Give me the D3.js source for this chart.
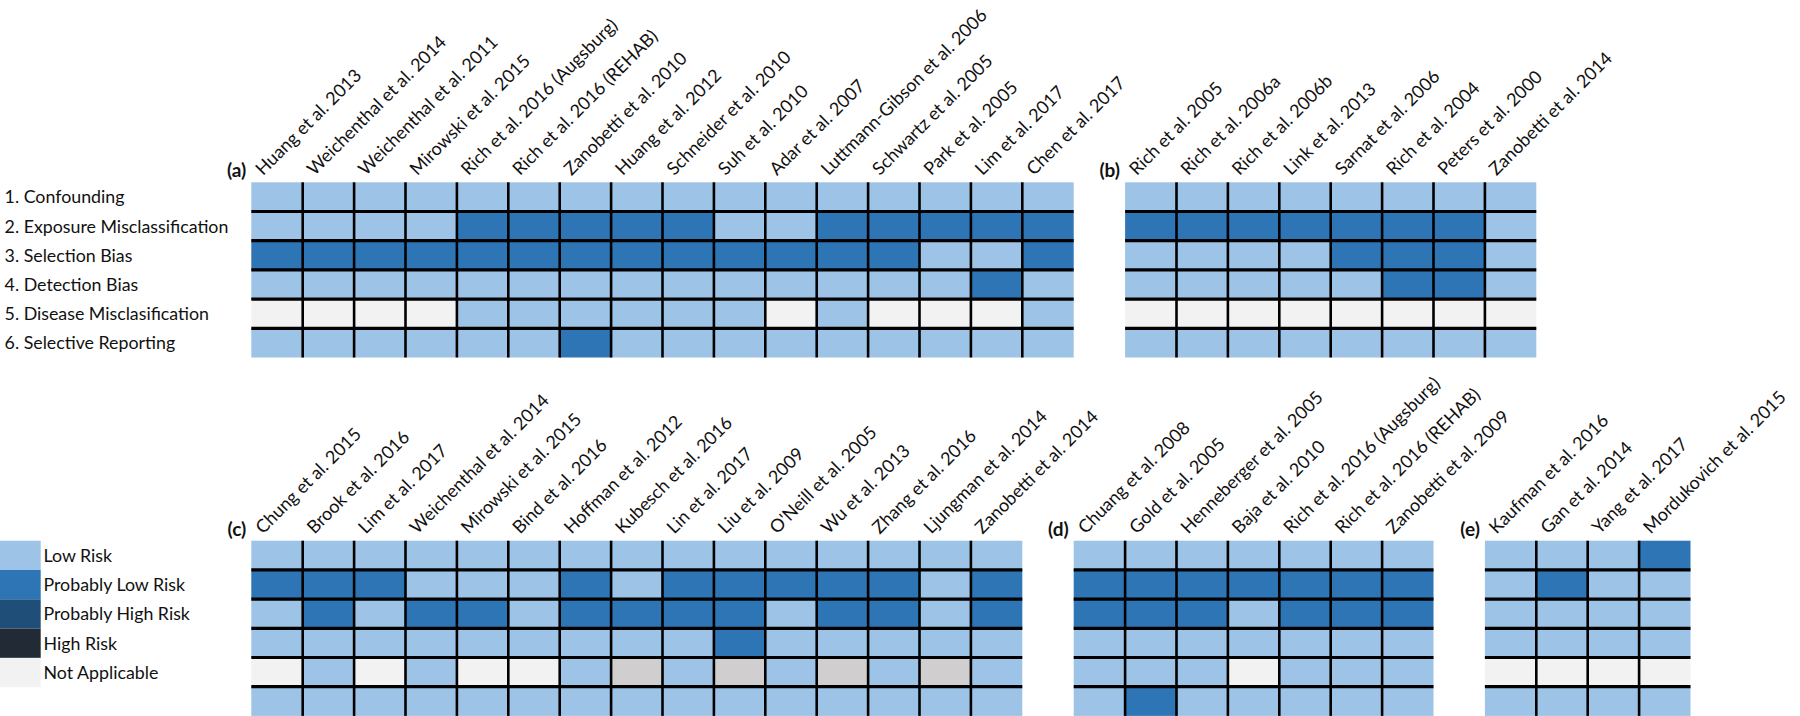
<!DOCTYPE html>
<html>
<head>
<meta charset="utf-8">
<script src="https://cdn.jsdelivr.net/npm/d3@7"></script>
<style>
  html, body { margin: 0; padding: 0; background: #fff; }
  svg { display: block; }
  text { font-family: Lato, "Open Sans", sans-serif; fill: #111; }
</style>
</head>
<body>
<svg id="chart" width="1800" height="716"></svg>
<script>
// ---------- DATA ----------
const domains = [
  "1. Confounding",
  "2. Exposure Misclassification",
  "3. Selection Bias",
  "4. Detection Bias",
  "5. Disease Misclasification",
  "6. Selective Reporting"
];

const riskLevels = ["Low Risk", "Probably Low Risk", "Probably High Risk", "High Risk", "Not Applicable"];
const riskCodes  = ["L", "PL", "PH", "H", "NA"];
// G = grey cell (shown in the original without a legend entry)

const studiesA = ["Huang et al. 2013", "Weichenthal et al. 2014", "Weichenthal et al. 2011", "Mirowski et al. 2015",
  "Rich et al. 2016 (Augsburg)", "Rich et al. 2016 (REHAB)", "Zanobetti et al. 2010", "Huang et al. 2012",
  "Schneider et al. 2010", "Suh et al. 2010", "Adar et al. 2007", "Luttmann-Gibson et al. 2006",
  "Schwartz et al. 2005", "Park et al. 2005", "Lim et al. 2017", "Chen et al. 2017"];
// one array per domain row, one code per study
const ratingsA = [
  ["L","L","L","L","L","L","L","L","L","L","L","L","L","L","L","L"],
  ["L","L","L","L","PL","PL","PL","PL","PL","L","L","PL","PL","PL","PL","PL"],
  ["PL","PL","PL","PL","PL","PL","PL","PL","PL","PL","PL","PL","PL","L","L","PL"],
  ["L","L","L","L","L","L","L","L","L","L","L","L","L","L","PL","L"],
  ["NA","NA","NA","NA","L","L","L","L","L","L","NA","L","NA","NA","NA","L"],
  ["L","L","L","L","L","L","PL","L","L","L","L","L","L","L","L","L"]
];

const studiesB = ["Rich et al. 2005", "Rich et al. 2006a", "Rich et al. 2006b", "Link et al. 2013",
  "Sarnat et al. 2006", "Rich et al. 2004", "Peters et al. 2000", "Zanobetti et al. 2014"];
const ratingsB = [
  ["L","L","L","L","L","L","L","L"],
  ["PL","PL","PL","PL","PL","PL","PL","L"],
  ["L","L","L","L","PL","PL","PL","L"],
  ["L","L","L","L","L","PL","PL","L"],
  ["NA","NA","NA","NA","NA","NA","NA","NA"],
  ["L","L","L","L","L","L","L","L"]
];

const studiesC = ["Chung et al. 2015", "Brook et al. 2016", "Lim et al. 2017", "Weichenthal et al. 2014",
  "Mirowski et al. 2015", "Bind et al. 2016", "Hoffman et al. 2012", "Kubesch et al. 2016",
  "Lin et al. 2017", "Liu et al. 2009", "O'Neill et al. 2005", "Wu et al. 2013",
  "Zhang et al. 2016", "Ljungman et al. 2014", "Zanobetti et al. 2014"];
const ratingsC = [
  ["L","L","L","L","L","L","L","L","L","L","L","L","L","L","L"],
  ["PL","PL","PL","L","L","L","PL","L","PL","PL","PL","PL","PL","L","PL"],
  ["L","PL","L","PL","PL","L","PL","PL","PL","PL","L","PL","PL","L","PL"],
  ["L","L","L","L","L","L","L","L","L","PL","L","L","L","L","L"],
  ["NA","L","NA","L","NA","NA","L","G","L","G","L","G","L","G","L"],
  ["L","L","L","L","L","L","L","L","L","L","L","L","L","L","L"]
];

const studiesD = ["Chuang et al. 2008", "Gold et al. 2005", "Henneberger et al. 2005", "Baja et al. 2010",
  "Rich et al. 2016 (Augsburg)", "Rich et al. 2016 (REHAB)", "Zanobetti et al. 2009"];
const ratingsD = [
  ["L","L","L","L","L","L","L"],
  ["PL","PL","PL","PL","PL","PL","PL"],
  ["PL","PL","PL","L","PL","PL","PL"],
  ["L","L","L","L","L","L","L"],
  ["L","L","L","NA","L","L","L"],
  ["L","PL","L","L","L","L","L"]
];

const studiesE = ["Kaufman et al. 2016", "Gan et al. 2014", "Yang et al. 2017", "Mordukovich et al. 2015"];
const ratingsE = [
  ["L","L","L","PL"],
  ["L","PL","L","L"],
  ["L","L","L","L"],
  ["L","L","L","L"],
  ["NA","NA","NA","NA"],
  ["L","L","L","L"]
];

const panelLabels = ["(a)", "(b)", "(c)", "(d)", "(e)"];

// ---------- LAYOUT ----------
const svg = d3.select("#chart");
const color = d3.scaleOrdinal()
  .domain(["L", "PL", "PH", "H", "NA", "G"])
  .range(["#9DC3E6", "#2E75B6", "#1F4E79", "#222A35", "#F2F2F2", "#D0CECE"]);

const gridLeft = 251.3, colW = 51.4, rowH = 29.2;
const nSlots = 28;
const slot = d3.scaleLinear().domain([0, nSlots]).range([gridLeft, gridLeft + nSlots * colW]);
const topRows = [182.3, 540.7];

const panels = [
  { label: panelLabels[0], studies: studiesA, ratings: ratingsA, start: 0,  row: 0 },
  { label: panelLabels[1], studies: studiesB, ratings: ratingsB, start: 17, row: 0 },
  { label: panelLabels[2], studies: studiesC, ratings: ratingsC, start: 0,  row: 1 },
  { label: panelLabels[3], studies: studiesD, ratings: ratingsD, start: 16, row: 1 },
  { label: panelLabels[4], studies: studiesE, ratings: ratingsE, start: 24, row: 1 }
];

panels.forEach(p => {
  const top = topRows[p.row];
  const x = d3.scaleBand().domain(d3.range(p.studies.length))
    .range([slot(p.start), slot(p.start + p.studies.length)]).padding(0);
  const y = d3.scaleBand().domain(domains).range([top, top + domains.length * rowH]).padding(0);
  const g = svg.append("g");

  const cells = [];
  p.ratings.forEach((row, ri) => row.forEach((code, ci) => cells.push({ d: domains[ri], i: ci, code })));
  g.selectAll("rect.cell").data(cells).join("rect")
    .attr("class", "cell")
    .attr("x", c => x(c.i)).attr("y", c => y(c.d))
    .attr("width", x.bandwidth()).attr("height", y.bandwidth())
    .attr("fill", c => color(c.code));

  const [x0, x1] = x.range();
  const [y0, y1] = y.range();
  // internal horizontal lines
  g.selectAll("line.h").data(domains.slice(1)).join("line")
    .attr("x1", x0).attr("x2", x1)
    .attr("y1", d => y(d)).attr("y2", d => y(d))
    .attr("stroke", "#000").attr("stroke-width", 3.2);
  // internal vertical lines
  g.selectAll("line.v").data(d3.range(1, p.studies.length)).join("line")
    .attr("x1", i => x(i)).attr("x2", i => x(i))
    .attr("y1", y0).attr("y2", y1)
    .attr("stroke", "#000").attr("stroke-width", 2.6);

  // column labels, rotated
  g.selectAll("text.col").data(p.studies).join("text")
    .attr("class", "col")
    .attr("transform", (s, i) => `translate(${x(i) + x.bandwidth() / 2 - 14},${top - 6}) rotate(-45)`)
    .attr("font-size", 18)
    .text(s => s);

  // panel label
  g.append("text")
    .attr("x", x0 - 5).attr("y", top - 5)
    .attr("text-anchor", "end")
    .attr("font-size", 19).attr("font-weight", "bold")
    .text(p.label);
});

// row labels (domains) for top panel row
const yTop = d3.scaleBand().domain(domains).range([topRows[0], topRows[0] + domains.length * rowH]);
svg.append("g").selectAll("text").data(domains).join("text")
  .attr("x", 4.6).attr("y", d => yTop(d) + yTop.bandwidth() / 2 + 2)
  .attr("dominant-baseline", "middle")
  .attr("font-size", 17.8)
  .text(d => d);

// legend
const yLeg = d3.scaleBand().domain(riskLevels).range([topRows[1], topRows[1] + riskLevels.length * 29.3]);
const leg = svg.append("g");
leg.selectAll("rect").data(riskLevels).join("rect")
  .attr("x", 0).attr("y", d => yLeg(d))
  .attr("width", 40.7).attr("height", yLeg.bandwidth())
  .attr("fill", (d, i) => color(riskCodes[i]));
leg.selectAll("text").data(riskLevels).join("text")
  .attr("x", 43.5).attr("y", d => yLeg(d) + yLeg.bandwidth() / 2 + 2)
  .attr("dominant-baseline", "middle")
  .attr("font-size", 17.8)
  .text(d => d);
</script>
</body>
</html>
